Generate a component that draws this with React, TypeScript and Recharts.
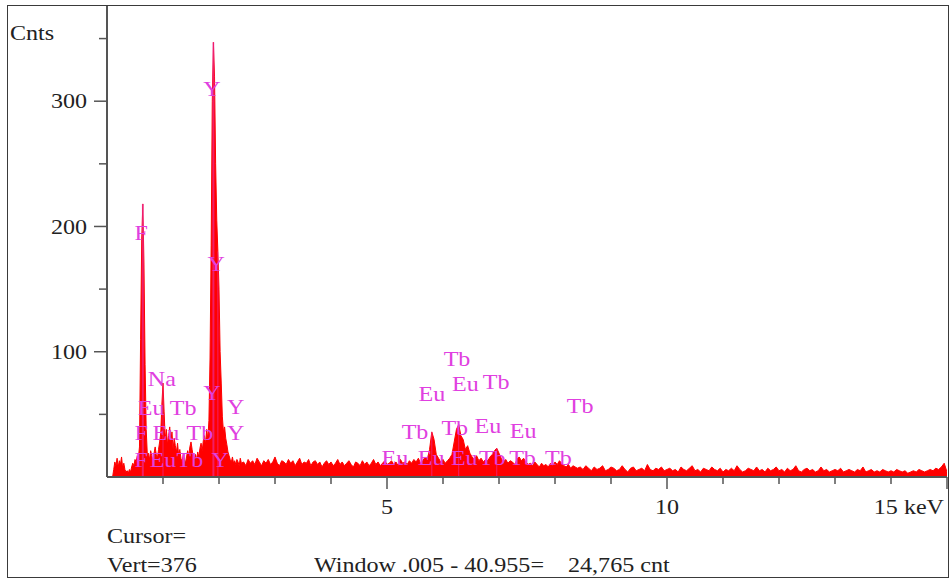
import { ComposedChart, Area, Scatter, XAxis, YAxis, ReferenceLine } from 'recharts'

const SERIF = "'Liberation Serif', 'Times New Roman', serif"
const RED = '#ff0000'
const MAGENTA = '#e040e0'
const AXIS = '#555555'
const STRETCH = 1.12

// channel counts, in blocks (start keV, channel width keV)
const lowStart = 0.1
const lowStep = 0.02
const lowCounts = [
  0, 6, 12, 9, 15, 8, 13, 10, 16, 7,
  11, 6, 4, 5, 3, 6, 4, 8, 11, 9,
  14, 12, 17, 15, 24, 110, 190, 218, 170, 90,
  38, 18, 19, 14, 21, 17, 13, 19, 24, 18,
  15, 22, 28, 35, 58, 75, 52, 30, 38, 26,
  33, 40, 28, 36, 22, 31, 25, 20, 27, 17,
  22, 15, 12, 18, 14, 11, 16, 21, 17, 24,
  28, 22, 16, 13, 18, 14, 20, 16, 23, 27,
  21, 29, 33, 26, 38, 30, 45, 95, 185, 300,
  347, 320, 250, 205, 180, 150, 100, 75, 48, 36,
  40, 31, 26, 20, 17, 14, 12, 16, 11, 13,
  10, 14, 12, 9, 15, 11,
]

const midStart = 2.44
const midStep = 0.04
const midCounts = [
  12, 9, 14, 11, 13, 10, 15, 12, 9, 13,
  11, 14, 10, 12, 16, 11, 9, 13, 12, 10,
  14, 11, 13, 9, 12, 15, 10, 12, 11, 14,
  9, 12, 13, 10, 12, 8, 11, 13, 10, 12,
  9, 11, 14, 10, 12, 9, 11, 13, 10, 8,
  12, 11, 9, 13, 10, 12, 9, 11, 14, 10,
  12, 9, 11, 13, 10,
]

const lineStart = 5.04
const lineStep = 0.04
const lineCounts = [
  11, 13, 10, 12, 9, 14, 11, 12, 10, 13,
  11, 14, 12, 15, 11, 13, 16, 14, 22, 36,
  30, 18, 15, 12, 14, 11, 13, 15, 18, 28,
  38, 42, 33, 30, 22, 25, 19, 16, 14, 17,
  13, 15, 12, 14, 13, 16, 18, 21, 23, 19,
  15, 12, 14, 11, 13, 12, 10, 14, 16, 13,
  15, 12, 10, 11, 9, 12, 10, 8, 11, 9,
  10, 8, 11, 9, 12, 10, 13, 11, 9, 8,
  10, 7, 9, 8, 7,
]

const highStart = 8.45
const highStep = 0.05
const highCounts = [
  8, 6, 9, 7, 5, 8, 6, 7, 9, 5, 6, 8,
  7, 5, 6, 9, 6, 4, 7, 8, 5, 6, 7, 5, 10, 6, 5, 7, 6, 8, 5, 6,
  7, 5, 6, 4, 8, 6, 5, 7, 9, 5, 6, 4, 7, 6, 5, 8, 6, 5, 7, 4,
  6, 5, 7, 5, 9, 6, 4, 5, 7, 6, 5, 8, 5, 6, 4, 7, 5, 6, 8, 5,
  6, 4, 7, 5, 6, 9, 5, 4, 6, 7, 5, 6, 4, 5, 8, 5, 6, 4, 5, 6,
  5, 7, 4, 5, 6, 5, 4, 6, 5, 8, 4, 5, 6, 4, 5, 4, 6, 5, 4, 5,
  4, 6, 5, 4, 5, 3, 4, 5, 4, 6, 5, 4, 5, 6, 5, 7, 6, 8, 11, 4,
]

// element (KLM) labels
const labelText = [
  'Y', 'F', 'Y', 'Na', 'Y', 'Eu', 'Tb', 'Y',
  'F', 'Eu', 'Tb', 'Y', 'F', 'Eu', 'Tb', 'Y',
  'Tb', 'Eu', 'Eu', 'Tb', 'Tb',
  'Tb', 'Tb', 'Eu', 'Eu',
  'Eu', 'Eu', 'Eu', 'Tb', 'Tb', 'Tb',
]
const labelKeV = [
  1.875, 0.61, 1.95, 0.98, 1.875, 0.79, 1.36, 2.3,
  0.61, 1.05, 1.66, 2.3, 0.61, 1.0, 1.48, 2.02,
  6.25, 5.8, 6.4, 6.95, 8.45,
  5.5, 6.21, 6.8, 7.43,
  5.14, 5.79, 6.38, 6.88, 7.42, 8.06,
]
const labelCnts = [
  310, 195, 170, 78, 67, 55, 55, 56,
  35, 35, 35, 35, 14, 14, 14, 14,
  94, 66, 74, 76, 57,
  36, 39, 41, 37,
  15, 15, 15, 15, 15, 15,
]

// marker lines under the main peaks
const markerKeV = [0.64, 1.0, 1.9, 1.98, 5.8, 6.28, 6.96]
const markerTop = [218, 75, 347, 180, 36, 42, 23]

const xTicks = [1, 2, 3, 4, 5, 6, 7, 8, 9, 10, 11, 12, 13, 14, 15]
const xTickText: Record<number, string> = { 5: '5', 10: '10', 15: '15 keV' }
const yTicks = [50, 100, 150, 200, 250, 300, 350]
const yTickText: Record<number, string> = { 100: '100', 200: '200', 300: '300' }

function block(start: number, step: number, counts: number[]) {
  return counts.map((c, i) => ({ e: +(start + i * step).toFixed(3), c }))
}

const spectrum = [
  ...block(lowStart, lowStep, lowCounts),
  ...block(midStart, midStep, midCounts),
  ...block(lineStart, lineStep, lineCounts),
  ...block(highStart, highStep, highCounts),
]

const labels = labelText.map((t, i) => ({ e: labelKeV[i], c: labelCnts[i], t }))

// serif text, widened a little like the original screen capture
function Txt({ x, y, anchor, fill, children }: any) {
  return (
    <text
      transform={`translate(${x},${y}) scale(${STRETCH},1)`}
      textAnchor={anchor}
      dominantBaseline="central"
      fill={fill}
      fontSize={21.5}
      fontFamily={SERIF}
    >
      {children}
    </text>
  )
}

function YTick(props: any) {
  const { x, y, payload } = props
  const text = yTickText[payload.value]
  return (
    <g>
      <line x1={x - (text ? 13 : 8)} x2={x} y1={y} y2={y} stroke={AXIS} strokeWidth={1.5} />
      {text && <Txt x={x - 20} y={y} anchor="end" fill="#222">{text}</Txt>}
    </g>
  )
}

function XTick(props: any) {
  const { x, y, payload } = props
  const text = xTickText[payload.value]
  const last = payload.value === 15
  return (
    <g>
      <line x1={x} x2={x} y1={y} y2={y + (text ? 12 : 7)} stroke={AXIS} strokeWidth={1.5} />
      {text && (
        <Txt x={last ? x - 3 : x} y={y + 30} anchor={last ? 'end' : 'middle'} fill="#222">
          {text}
        </Txt>
      )}
    </g>
  )
}

function ElementLabel(props: any) {
  const { cx, cy, payload } = props
  return <Txt x={cx} y={cy} anchor="middle" fill={MAGENTA}>{payload.t}</Txt>
}

const textStyle = {
  position: 'absolute' as const,
  fontFamily: SERIF,
  fontSize: 21.5,
  color: '#222',
  lineHeight: '24px',
  whiteSpace: 'pre' as const,
  transform: `scaleX(${STRETCH})`,
  transformOrigin: 'left center',
}

export default function App() {
  return (
    <div style={{ position: 'absolute', left: 0, top: 0, width: 952, height: 583, background: '#fff' }}>
      <div style={{ position: 'absolute', left: 7, top: 5, width: 940, height: 571, border: '1.5px solid #3a3a3a' }} />
      <ComposedChart width={952} height={583} data={spectrum} margin={{ top: 6, right: 5, bottom: 105, left: 106 }}>
        <XAxis
          dataKey="e"
          type="number"
          domain={[0, 15]}
          ticks={xTicks}
          allowDataOverflow
          height={1}
          tickSize={0}
          tickMargin={0}
          tickLine={false}
          axisLine={{ stroke: AXIS, strokeWidth: 2 }}
          tick={<XTick />}
          interval={0}
        />
        <YAxis
          type="number"
          domain={[0, 376]}
          ticks={yTicks}
          allowDataOverflow
          width={1}
          tickSize={0}
          tickMargin={0}
          tickLine={false}
          axisLine={{ stroke: AXIS, strokeWidth: 2 }}
          tick={<YTick />}
          interval={0}
        />
        <Area
          type="linear"
          dataKey="c"
          stroke={RED}
          strokeWidth={1}
          fill={RED}
          fillOpacity={1}
          dot={false}
          activeDot={false}
          isAnimationActive={false}
        />
        {markerKeV.map((e, i) => (
          <ReferenceLine
            key={i}
            segment={[{ x: e, y: 0 }, { x: e, y: markerTop[i] }]}
            stroke={MAGENTA}
            strokeOpacity={0.45}
            strokeWidth={i === 2 || i === 0 ? 2 : 1}
          />
        ))}
        <Scatter data={labels} dataKey="c" shape={ElementLabel} isAnimationActive={false} />
      </ComposedChart>
      <div style={{ ...textStyle, left: 10, top: 21 }}>Cnts</div>
      <div style={{ ...textStyle, left: 107, top: 524 }}>Cursor=</div>
      <div style={{ ...textStyle, left: 107, top: 553 }}>Vert=376</div>
      <div style={{ ...textStyle, left: 314, top: 553 }}>Window .005 - 40.955=</div>
      <div style={{ ...textStyle, left: 568, top: 553 }}>24,765 cnt</div>
    </div>
  )
}
